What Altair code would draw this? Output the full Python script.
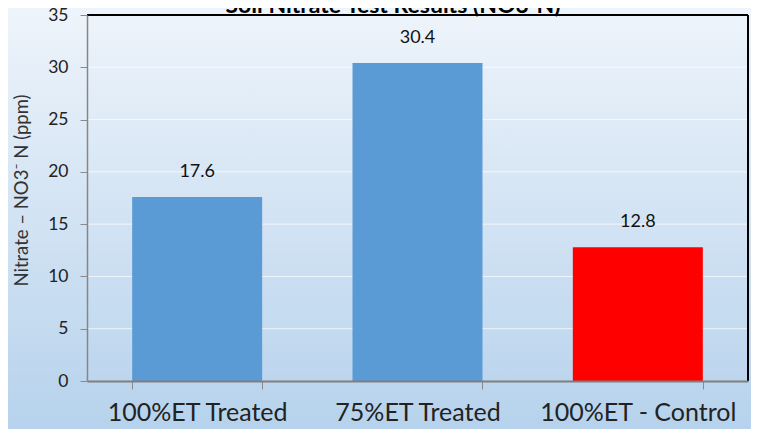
import altair as alt
import pandas as pd

# ---- data ----
categories = ["100%ET Treated", "75%ET Treated", "100%ET - Control"]
values = [17.6, 30.4, 12.8]
bar_colors = ["#5b9bd5", "#5b9bd5", "#ff0000"]
value_labels = ["17.6", "30.4", "12.8"]
y_ticks = [0, 5, 10, 15, 20, 25, 30, 35]
grid_values = [5, 10, 15, 20, 25, 30]
title_text = "Soil Nitrate Test Results (NO3\u207bN)"
y_title = "Nitrate \u2013 NO3\u207b N (ppm)"

W, H = 661, 366
FONT = "Lato"

df = pd.DataFrame({"cat": categories, "val": values, "color": bar_colors, "label": value_labels})
grid_df = pd.DataFrame({"v": grid_values})
one = pd.DataFrame({"a": [0]})

y_axis = alt.Axis(
    values=y_ticks, grid=False, zindex=1,
    labelFont=FONT, labelFontSize=17.5, labelColor="#222", labelPadding=12,
    tickSize=7, tickColor="#8a8a8a", tickWidth=1,
    domainColor="#868686", domainWidth=1.5,
    title=y_title, titleFont=FONT, titleFontSize=18.5, titleFontWeight="normal",
    titleColor="#333", titlePadding=16, titleY=175,
)
y_scale = alt.Scale(domain=[0, 35], nice=False)

background = alt.Chart(one).mark_rect(
    fill=alt.Gradient(
        gradient="linear",
        stops=[alt.GradientStop(color="#eef4fb", offset=0),
               alt.GradientStop(color="#b6d2ec", offset=1)],
        x1=0, x2=0, y1=0, y2=1,
    )
).encode(x=alt.value(-79), x2=alt.value(W + 10), y=alt.value(-7), y2=alt.value(H + 50))

grid = alt.Chart(grid_df).mark_rule(color="#ffffff", strokeWidth=1, opacity=0.7).encode(
    y=alt.Y("v:Q", scale=y_scale, axis=y_axis),
    x=alt.value(0), x2=alt.value(W),
)

x_enc = alt.X(
    "cat:N", sort=categories,
    scale=alt.Scale(paddingInner=0.41, paddingOuter=0.205),
    axis=alt.Axis(
        title=None, labelAngle=0, grid=False, zindex=1, labelLimit=400,
        labelFont=FONT, labelFontSize=25, labelColor="#222", labelPadding=11,
        tickBand="extent", tickSize=8, tickColor="#8a8a8a", tickWidth=1,
        domainColor="#7f7f7f", domainWidth=2,
    ),
)

bars = alt.Chart(df).mark_bar().encode(
    x=x_enc,
    y=alt.Y("val:Q", scale=y_scale, axis=y_axis),
    color=alt.Color("color:N", scale=None),
)

labels = alt.Chart(df).mark_text(
    font=FONT, fontSize=18, color="#111", baseline="middle", dy=-25
).encode(
    x=alt.X("cat:N", sort=categories),
    y=alt.Y("val:Q", scale=y_scale, axis=y_axis),
    text="label:N",
)

top_rule = alt.Chart(one).mark_rule(color="#000", strokeWidth=2).encode(
    x=alt.value(0), x2=alt.value(W), y=alt.value(0)
)
right_rule = alt.Chart(one).mark_rule(color="#000", strokeWidth=2).encode(
    x=alt.value(W), y=alt.value(0), y2=alt.value(H)
)

title = alt.Chart(one).mark_text(
    font=FONT, fontSize=23, fontWeight="bold", color="#000", baseline="alphabetic"
).encode(x=alt.value(306), y=alt.value(-2), text=alt.value(title_text))

chart = alt.layer(background, grid, bars, labels, top_rule, right_rule, title).properties(
    width=W, height=H,
    autosize=alt.AutoSizeParams(type="none"),
    padding={"left": 79, "top": 7, "right": 3, "bottom": 48},
).configure_view(stroke=None)

chart.save("out.html", embed_options={"renderer": "svg", "actions": False})
